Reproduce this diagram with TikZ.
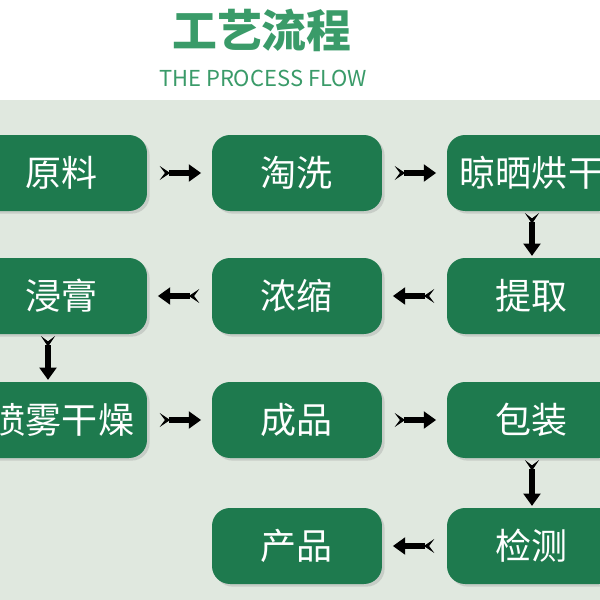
\documentclass[tikz,border=0pt]{standalone}
\usepackage{fontspec}
\newfontfamily\cjk{Noto Sans CJK SC}
\usetikzlibrary{positioning,arrows.meta,shadows}
\definecolor{boxgreen}{RGB}{30,122,78}
\definecolor{ttlgreen}{RGB}{58,155,105}
\definecolor{bggrey}{RGB}{224,232,223}
\tikzset{
  stp/.style={rectangle,rounded corners=18*0.02cm,fill=boxgreen,text=white,
    minimum width=3.4cm,minimum height=1.52cm,inner sep=0pt,font=\cjk\fontsize{20.5}{22}\selectfont,
    drop shadow={opacity=0.25,shadow xshift=1.5pt,shadow yshift=-1.5pt}},
  flw/.style={line width=2.9pt,black,{Stealth[reversed,length=6pt,width=8pt,inset=3pt]}-{Triangle[length=7pt,width=9.5pt]}},
  hflw/.style={flw,shorten <=7pt,shorten >=6pt},
  vflw/.style={flw,shorten <=1pt,shorten >=1pt},
  every picture/.style={x=0.02cm,y=-0.02cm}
}
\begin{document}
\begin{tikzpicture}
  \useasboundingbox (0,0) rectangle (600,600);
  \fill[white] (0,0) rectangle (600,100); \fill[bggrey] (0,100) rectangle (600,600);
  \node[font=\cjk\bfseries\fontsize{25.5}{28}\selectfont,text=ttlgreen] (ttl) at (262,30) {工艺流程};
  \node[font=\cjk\fontsize{12.5}{14}\selectfont,text=ttlgreen] (sub) at (263,78) {THE PROCESS FLOW};
  % row 1
  \node[stp] (raw) at (62,173) {原料}; \node[stp] (wash) at (297,173) {淘洗}; \node[stp] (dry) at (532,173) {晾晒烘干};
  % row 2
  \node[stp] (paste) at (62,296) {浸膏}; \node[stp] (conc) at (297,296) {浓缩}; \node[stp] (ext) at (532,296) {提取};
  % row 3
  \node[stp] (spray) at (62,420) {喷雾干燥}; \node[stp] (prod) at (297,420) {成品}; \node[stp] (pack) at (532,420) {包装};
  % row 4
  \node[stp] (final) at (297,546) {产品}; \node[stp] (test) at (532,546) {检测};
  \draw[hflw] (raw) -- (wash); \draw[hflw] (wash) -- (dry); \draw[vflw] (dry.south -| ext) -- (ext);
  \draw[hflw] (ext) -- (conc); \draw[hflw] (conc) -- (paste); \draw[vflw] (paste.south -| 48,0) -- (spray.north -| 48,0);
  \draw[hflw] (spray) -- (prod); \draw[hflw] (prod) -- (pack); \draw[vflw] (pack) -- (test); \draw[hflw] (test) -- (final);
\end{tikzpicture}
\end{document}
